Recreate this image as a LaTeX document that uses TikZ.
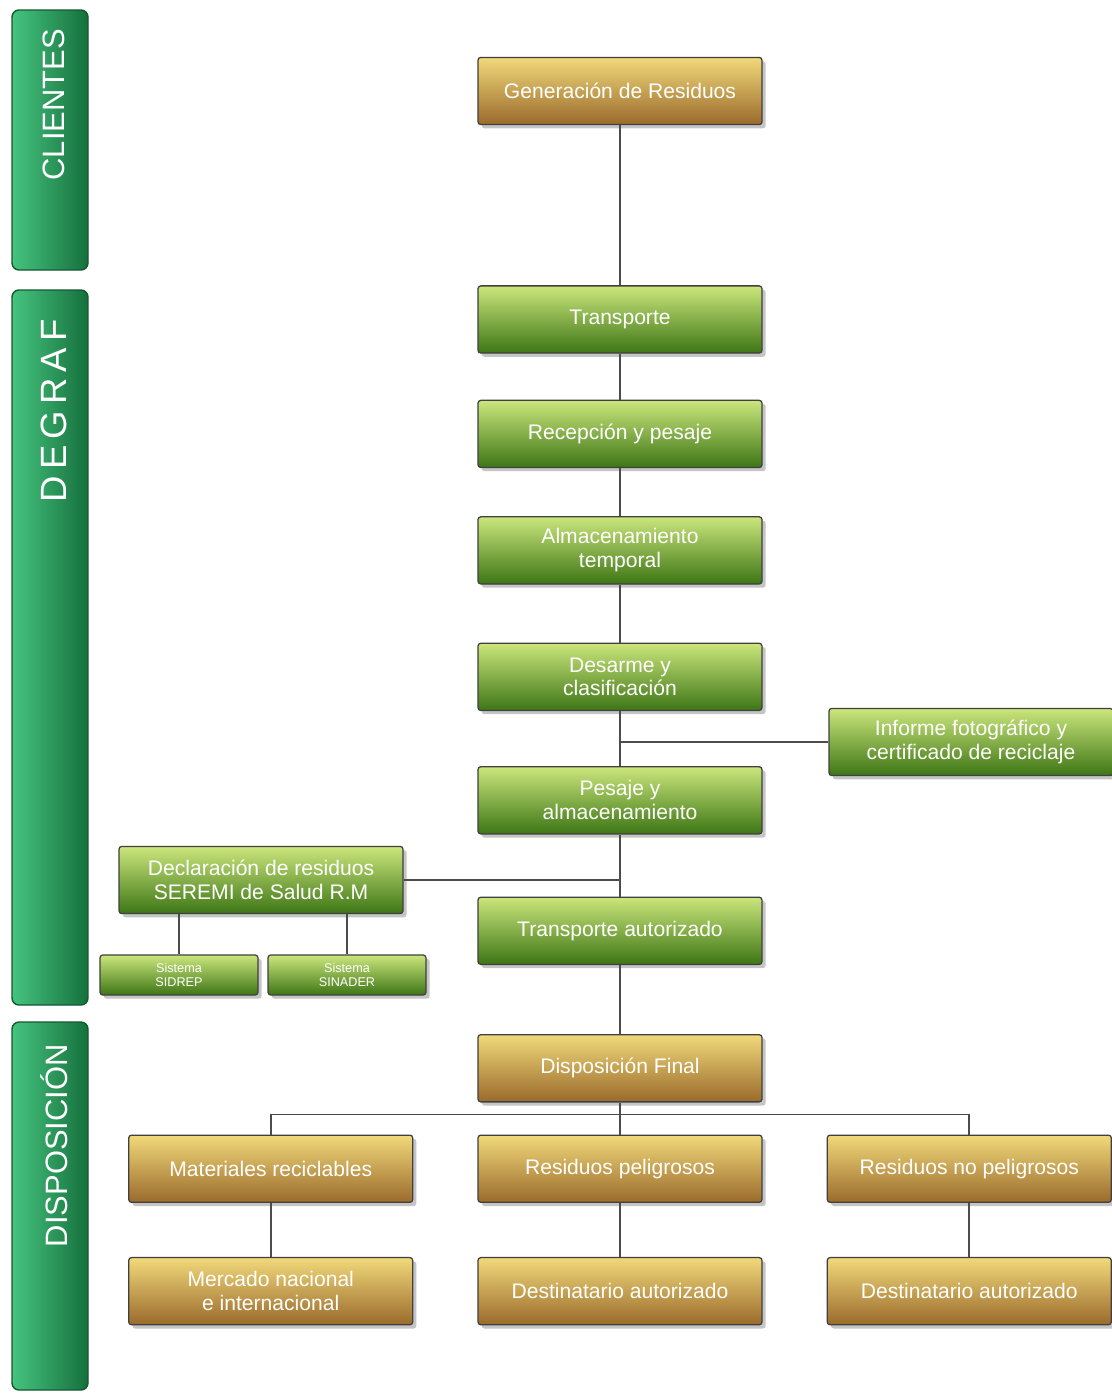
\documentclass[tikz,border=0pt]{standalone}
\usepackage{fontspec}
\setmainfont{Liberation Sans}
\usetikzlibrary{positioning,shadows}

\definecolor{goldtop}{HTML}{F1D97A}
\definecolor{goldmid}{HTML}{D2A640}
\definecolor{goldbot}{HTML}{9A6A2C}
\definecolor{greentop}{HTML}{CBE67C}
\definecolor{greenmid}{HTML}{86BC33}
\definecolor{greenbot}{HTML}{3D7615}
\definecolor{barlight}{HTML}{45C47F}
\definecolor{barmid}{HTML}{2FA866}
\definecolor{bardark}{HTML}{16703C}

\begin{document}
\begin{tikzpicture}[
    goldbox/.style={rectangle, rounded corners=2pt, draw=black!75, line width=0.9pt, top color=goldtop, middle color=goldmid, bottom color=goldbot, drop shadow={opacity=0.45}, minimum width=7.1cm, minimum height=1.68cm, align=center, text=white, font=\fontsize{15}{17}\selectfont},
    greenbox/.style={goldbox, top color=greentop, middle color=greenmid, bottom color=greenbot},
    smallbox/.style={greenbox, minimum width=3.95cm, minimum height=1cm, font=\fontsize{9}{10}\selectfont},
    sidebar/.style={rectangle, rounded corners=5pt, draw=bardark!80!black, line width=1pt, left color=barlight, middle color=barmid, right color=bardark, minimum width=1.9cm},
    bartext/.style={rotate=90, text=white, font=\fontsize{22}{24}\selectfont},
    link/.style={draw=black!70, line width=1.3pt},
    node distance=1.2cm
]
\useasboundingbox[fill=white] (0,0) rectangle (27.8,-34.925);

% Side bars
\node[sidebar, minimum height=6.5cm] (clientes) at (1.25,-3.5) {};
\node[sidebar, minimum height=17.875cm] (degraf) at (1.25,-16.1875) {};
\node[sidebar, minimum height=9.2cm] (disposicion) at (1.25,-30.15) {};
\node[bartext, anchor=east] (tclientes) at ([xshift=0.1cm, yshift=-0.375cm]clientes.north) {CLIENTES};
\node[bartext, anchor=east, font=\fontsize{26}{28}\selectfont] (tdegraf) at ([xshift=0.1cm, yshift=-0.625cm]degraf.north) {D\,E\,G\,R\,A\,F};
\node[bartext, anchor=east] (tdisposicion) at ([xshift=0.1cm, yshift=-0.45cm]disposicion.north) {DISPOSICIÓN};

% Main column
\node[goldbox] (gen) at (15.5,-2.275) {Generación de Residuos};
\node[greenbox, below=4cm of gen] (transp) {Transporte};
\node[greenbox, below=1.15cm of transp] (recep) {Recepción y pesaje};
\node[greenbox, below=1.2cm of recep] (almac) {Almacenamiento\\temporal};
\node[greenbox, below=1.45cm of almac] (desarme) {Desarme y\\clasificación};
\node[greenbox, below=1.375cm of desarme] (pesaje) {Pesaje y\\almacenamiento};
\node[greenbox, below=1.55cm of pesaje] (transaut) {Transporte autorizado};
\node[goldbox, below=1.725cm of transaut] (dispfin) {Disposición Final};

% Side branches
\node[greenbox] (info) at (24.275,-18.55) {Informe fotográfico y\\certificado de reciclaje};
\node[greenbox] (decl) at (6.525,-22.0) {Declaración de residuos\\SEREMI de Salud R.M};
\node[smallbox] (sidrep) at (4.475,-24.375) {Sistema\\SIDREP};
\node[smallbox] (sinader) at (8.675,-24.375) {Sistema\\SINADER};

% Final destinations
\node[goldbox, below=0.8cm of dispfin] (peli) {Residuos peligrosos};
\node[goldbox, left=1.6cm of peli] (mat) {Materiales reciclables};
\node[goldbox, right=1.6cm of peli] (nop) {Residuos no peligrosos};
\node[goldbox, below=1.35cm of mat] (merc) {Mercado nacional\\e internacional};
\node[goldbox, below=1.35cm of peli] (destpeli) {Destinatario autorizado};
\node[goldbox, below=1.35cm of nop] (destnop) {Destinatario autorizado};

% Junctions
\coordinate (jinfo) at (info.west -| desarme.south);
\coordinate (jdecl) at (decl.east -| pesaje.south);
\coordinate[below=0.3cm of dispfin] (bus);

% Spine
\draw[link] (gen) -- (transp);
\draw[link] (transp) -- (recep);
\draw[link] (recep) -- (almac);
\draw[link] (almac) -- (desarme);
\draw[link] (desarme) -- (pesaje);
\draw[link] (pesaje) -- (transaut);
\draw[link] (transaut) -- (dispfin);

% Branches
\draw[link] (jinfo) -- (info);
\draw[link] (jdecl) -- (decl);
\draw[link] (sidrep.north) -- (sidrep.north |- decl.south);
\draw[link] (sinader.north) -- (sinader.north |- decl.south);
\draw[link] (dispfin) -- (peli);
\draw[link] (mat.north) |- (bus) -| (nop.north);
\draw[link] (mat) -- (merc);
\draw[link] (peli) -- (destpeli);
\draw[link] (nop) -- (destnop);

\end{tikzpicture}
\end{document}
